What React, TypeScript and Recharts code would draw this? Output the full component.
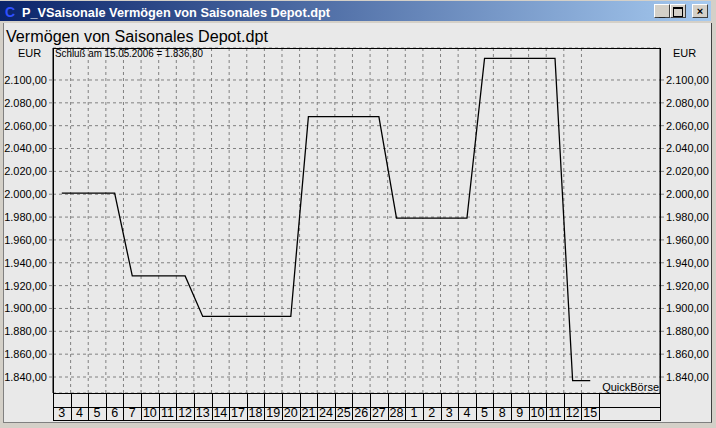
import { LineChart, Line, XAxis, YAxis, CartesianGrid, ReferenceLine } from 'recharts';

const days = ['3', '4', '5', '6', '7', '10', '11', '12', '13', '14', '17', '18', '19', '20', '21', '24', '25', '26', '27', '28', '1', '2', '3', '4', '5', '8', '9', '10', '11', '12', '15'];
const depotValues = [2001, 2001, 2001, 2001, 1928.5, 1928.5, 1928.5, 1928.5, 1893, 1893, 1893, 1893, 1893, 1893, 2068, 2068, 2068, 2068, 2068, 1979, 1979, 1979, 1979, 1979, 2119, 2119, 2119, 2119, 2119, 1836.8, 1836.8];
const yTicks = [1840, 1860, 1880, 1900, 1920, 1940, 1960, 1980, 2000, 2020, 2040, 2060, 2080, 2100];

const data = depotValues.map((v, i) => ({ i, v }));
const xTicks = days.map((_, i) => i);
const cellBorders = days.slice(1).map((_, i) => i + 0.5);

const W = 716;
const H = 428;
const PLOT_L = 53;
const PLOT_R = 660;
const PLOT_T = 48;
const PLOT_B = 393;
const X_MIN = -0.5;
const X_MAX = 33.96;
const CELL = (PLOT_R - PLOT_L) / (X_MAX - X_MIN);
const FONT = '"Liberation Sans", Arial, sans-serif';

const fmtEur = (v: number) =>
  v.toLocaleString('de-DE', { minimumFractionDigits: 2, maximumFractionDigits: 2 });

function DayTick(props: any) {
  const { x, payload } = props;
  const left = Math.round(x - CELL / 2) + 0.5;
  const right = Math.round(x + CELL / 2) + 0.5;
  return (
    <g>
      <line x1={left} x2={left} y1={PLOT_B} y2={PLOT_B + 27} stroke="#000" />
      <line x1={right} x2={right} y1={PLOT_B} y2={PLOT_B + 27} stroke="#000" />
      <text x={x} y={PLOT_B + 24} textAnchor="middle" fontSize={12.5} fontFamily={FONT} fill="#000">
        {days[payload.value]}
      </text>
    </g>
  );
}

function WinButton({ left, children }: { left: number; children: any }) {
  return (
    <div
      style={{
        position: 'absolute',
        left,
        top: 4,
        width: 16,
        height: 14,
        boxSizing: 'border-box',
        background: '#D4D0C8',
        borderTop: '1px solid #fff',
        borderLeft: '1px solid #fff',
        borderRight: '1px solid #404040',
        borderBottom: '1px solid #404040',
        fontFamily: FONT,
        fontWeight: 'bold',
        fontSize: 11,
        lineHeight: '12px',
        textAlign: 'center',
        color: '#000',
      }}
    >
      {children}
    </div>
  );
}

export default function App() {
  return (
    <div style={{ position: 'absolute', left: 0, top: 0, width: W, height: H, background: '#D4D0C8', overflow: 'hidden' }}>
      {/* title bar */}
      <div
        style={{
          position: 'absolute',
          left: 0,
          top: 1,
          width: 711,
          height: 20,
          background: 'linear-gradient(to right, #0A246A, #A6CAF0)',
        }}
      />
      <WinButton left={654}>
        <span style={{ position: 'relative', top: 1 }}>_</span>
      </WinButton>
      <WinButton left={670}>
        <span style={{ display: 'inline-block', width: 8, height: 7, border: '1px solid #000', borderTopWidth: 2, marginTop: 2 }} />
      </WinButton>
      <WinButton left={692}>×</WinButton>

      {/* client area */}
      <div
        style={{
          position: 'absolute',
          left: 3,
          top: 23,
          width: 707,
          height: 399,
          background: '#E9E9E9',
          borderRight: '1px solid #404040',
          borderBottom: '1px solid #808080',
          borderLeft: '1px solid #808080',
        }}
      />

      <div style={{ position: 'absolute', left: 0, top: 0 }}>
        <LineChart width={W} height={H} data={data} margin={{ top: PLOT_T, right: 0, bottom: 0, left: 0 }}>
          <CartesianGrid yAxisId="left" vertical={false} stroke="#808080" strokeDasharray="3 3" />
          {cellBorders.map((b) => (
            <ReferenceLine key={b} yAxisId="left" x={b} stroke="#808080" strokeDasharray="3 3" />
          ))}
          <XAxis
            dataKey="i"
            type="number"
            domain={[X_MIN, X_MAX]}
            ticks={xTicks}
            interval={0}
            height={H - PLOT_B}
            axisLine={false}
            tickLine={false}
            tick={<DayTick />}
            allowDataOverflow
          />
          <YAxis
            yAxisId="left"
            orientation="left"
            width={PLOT_L}
            domain={[1826, 2128]}
            ticks={yTicks}
            interval={0}
            allowDataOverflow
            tickFormatter={fmtEur}
            tick={{ fontSize: 11, fontFamily: FONT, fill: '#000' }}
            tickSize={4}
            tickMargin={2}
            axisLine={{ stroke: '#000' }}
            tickLine={{ stroke: '#808080' }}
          />
          <YAxis
            yAxisId="right"
            orientation="right"
            width={W - PLOT_R}
            domain={[1826, 2128]}
            ticks={yTicks}
            interval={0}
            allowDataOverflow
            tickFormatter={fmtEur}
            tick={{ fontSize: 11, fontFamily: FONT, fill: '#000' }}
            tickSize={4}
            tickMargin={2}
            axisLine={{ stroke: '#000' }}
            tickLine={{ stroke: '#808080' }}
          />
          <Line
            yAxisId="left"
            dataKey="v"
            type="linear"
            stroke="#000"
            strokeWidth={1.3}
            dot={false}
            isAnimationActive={false}
          />
        </LineChart>
      </div>

      {/* frame, table rows and texts */}
      <svg width={W} height={H} style={{ position: 'absolute', left: 0, top: 0, pointerEvents: 'none' }}>
        <rect x={PLOT_L + 0.5} y={PLOT_T + 0.5} width={PLOT_R - PLOT_L} height={PLOT_B + 27 - PLOT_T} fill="none" stroke="#000" />
        <line x1={PLOT_L} x2={PLOT_R} y1={PLOT_B + 0.5} y2={PLOT_B + 0.5} stroke="#000" />
        <line x1={PLOT_L} x2={PLOT_R} y1={PLOT_B + 14.5} y2={PLOT_B + 14.5} stroke="#000" />
        <text x={5} y={17} fontFamily={FONT} fontWeight="bold" fontSize={14} fill="#3050ff">C</text>
        <text x={22} y={17} fontFamily={FONT} fontWeight="bold" fontSize={12} fill="#fff" textLength={308} lengthAdjust="spacingAndGlyphs">
          P_VSaisonale Vermögen von Saisonales Depot.dpt
        </text>
        <text x={6} y={42} fontFamily={FONT} fontSize={16} fill="#000" textLength={262} lengthAdjust="spacingAndGlyphs">
          Vermögen von Saisonales Depot.dpt
        </text>
        <text x={18} y={57} fontFamily={FONT} fontSize={11} fill="#000">EUR</text>
        <text x={673} y={57} fontFamily={FONT} fontSize={11} fill="#000">EUR</text>
        <text x={55} y={57} fontFamily={FONT} fontSize={11} fill="#000" textLength={148} lengthAdjust="spacingAndGlyphs">
          Schluß am 15.05.2006 = 1.836,80
        </text>
        <text x={659} y={391} textAnchor="end" fontFamily={FONT} fontSize={11} fill="#000">QuickBörse</text>
      </svg>
    </div>
  );
}
